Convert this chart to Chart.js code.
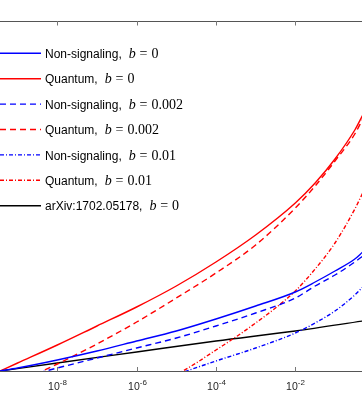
<!DOCTYPE html>
<html><head><meta charset="utf-8">
<script src="https://cdn.jsdelivr.net/npm/chart.js@4"></script>
<style>html,body{margin:0;padding:0;background:#fff;overflow:hidden}
#wrap{position:relative;width:362px;height:393px}</style>
</head><body><div id="wrap"><canvas id="c" width="362" height="393"></canvas></div>
<script>
// x values are given as base-10 exponents; y values in arbitrary units (0 = bottom of axes)
const xRangeExp = [-9.444, -0.319];
const tickExponents = [-10, -8, -6, -4, -2, 0];

const nsB0Exp = [-9.444, -9, -8, -7, -6, -5, -4, -3, -2, -1.5, -1, -0.5, -0.3];
const nsB0    = [0, 3, 11, 20, 30, 40, 52, 65, 79, 89, 100, 112, 119];

const qB0Exp  = [-9.444, -9, -8, -7, -6, -5, -4, -3, -2, -1.5, -1, -0.5, -0.3];
const qB0     = [0, 8, 26, 45, 64, 85, 109, 136, 168, 188, 212, 241, 256];

const nsB002Exp = [-9.444, -9, -8, -7, -6, -5, -4, -3, -2, -1.5, -1, -0.5, -0.3];
const nsB002    = [-11, -7, 3, 13, 23, 33, 45, 58, 73, 85, 96, 109, 115];

const qB002Exp = [-9.444, -9, -8, -7, -6, -5, -4, -3, -2, -1.5, -1, -0.5, -0.3];
const qB002    = [-21, -12, 7, 27, 49, 73, 98, 126, 163, 185, 210, 237, 252];

const nsB001Exp = [-5, -4, -3, -2, -1.5, -1, -0.5, -0.3];
const nsB001    = [-3.5, 10, 23, 38, 48, 60, 76, 84];

const qB001Exp = [-5, -4.5, -4, -3.5, -3, -2.5, -2, -1.5, -1, -0.5, -0.3];
const qB001    = [-4, 8, 21, 34, 48, 63, 80, 102, 128, 162, 178];

const arxivExp = [-9.444, -8, -6, -4, -2, -0.3];
const arxiv    = [0, 8, 19, 30, 40, 50];

const labels = [
  'Non-signaling, b = 0',
  'Quantum, b = 0',
  'Non-signaling, b = 0.002',
  'Quantum, b = 0.002',
  'Non-signaling, b = 0.01',
  'Quantum, b = 0.01',
  'arXiv:1702.05178, b = 0'
];

function pts(ex, ys){ return ex.map((e,i)=>({x: Math.pow(10,e), y: ys[i]})); }

const DASH = [6,4], DASHDOT = [4,2,1,2];
const series = [
  [nsB0Exp, nsB0, '#0000ff', []],
  [qB0Exp, qB0, '#ff0000', []],
  [nsB002Exp, nsB002, '#0000ff', DASH],
  [qB002Exp, qB002, '#ff0000', DASH],
  [nsB001Exp, nsB001, '#0000ff', DASHDOT],
  [qB001Exp, qB001, '#ff0000', DASHDOT],
  [arxivExp, arxiv, '#000000', []]
];

const datasets = series.map((s,i)=>({
  label: labels[i],
  data: pts(s[0], s[1]),
  borderColor: s[2],
  borderDash: s[3],
  borderWidth: 1.4,
  pointRadius: 0,
  fill: false,
  cubicInterpolationMode: 'monotone'
}));

const SANS = '"Liberation Sans", Arial, Helvetica, sans-serif';
const SERIF = '"Liberation Serif", "Times New Roman", serif';

const decor = {
  id: 'decor',
  afterDatasetsDraw(chart){
    const ctx = chart.ctx, a = chart.chartArea, xs = chart.scales.x;
    ctx.save();
    // axes lines
    ctx.strokeStyle = '#555';
    ctx.lineWidth = 1;
    ctx.setLineDash([]);
    ctx.beginPath();
    ctx.moveTo(0, Math.round(a.top)+0.5); ctx.lineTo(chart.width, Math.round(a.top)+0.5);
    ctx.moveTo(0, Math.round(a.bottom)+0.5); ctx.lineTo(chart.width, Math.round(a.bottom)+0.5);
    ctx.stroke();
    // inward ticks and labels
    ctx.strokeStyle = '#777';
    tickExponents.forEach(e=>{
      const x = Math.round(xs.getPixelForValue(Math.pow(10,e)))+0.5;
      if (x < -30 || x > chart.width+30) return;
      ctx.beginPath();
      ctx.moveTo(x, Math.round(a.top)); ctx.lineTo(x, Math.round(a.top)+4.5);
      ctx.moveTo(x, Math.round(a.bottom)+0.5); ctx.lineTo(x, Math.round(a.bottom)-4);
      ctx.stroke();
      ctx.fillStyle = '#262626';
      const base = '10', sup = String(e);
      ctx.font = '10.5px ' + SANS;
      const w1 = ctx.measureText(base).width;
      ctx.font = '8px ' + SANS;
      const w2 = ctx.measureText(sup).width;
      const x0 = x - (w1 + w2)/2;
      ctx.textBaseline = 'alphabetic';
      ctx.textAlign = 'left';
      ctx.font = '10.5px ' + SANS;
      ctx.fillText(base, x0, a.bottom + 19);
      ctx.font = '8px ' + SANS;
      ctx.fillText(sup, x0 + w1, a.bottom + 14);
    });
    // legend
    const y0 = 53.3, dy = 25.4;
    chart.data.datasets.forEach((ds,i)=>{
      const y = y0 + i*dy;
      ctx.strokeStyle = ds.borderColor;
      ctx.lineWidth = 1.4;
      ctx.setLineDash(ds.borderDash);
      ctx.beginPath(); ctx.moveTo(0, y); ctx.lineTo(41, y); ctx.stroke();
      ctx.setLineDash([]);
      const parts = ds.label.split(', b = ');
      ctx.fillStyle = '#000';
      ctx.textBaseline = 'alphabetic';
      ctx.textAlign = 'left';
      let x = 45;
      const bl = y + 4.7;
      ctx.font = '12px ' + SANS;
      ctx.fillText(parts[0] + ',', x, bl);
      x += ctx.measureText(parts[0] + ',').width + 7;
      ctx.font = 'italic 14px ' + SERIF;
      ctx.fillText('b', x, bl);
      x += ctx.measureText('b').width + 3.9;
      ctx.font = '14px ' + SERIF;
      ctx.fillText('=', x, bl);
      x += ctx.measureText('=').width + 3.9;
      ctx.fillText(parts[1], x, bl);
    });
    ctx.restore();
  }
};

new Chart(document.getElementById('c'), {
  type: 'line',
  data: { datasets },
  options: {
    responsive: false,
    animation: false,
    events: [],
    layout: { padding: { top: 21, bottom: 22, left: 0, right: 0 } },
    plugins: { legend: { display: false }, tooltip: { enabled: false } },
    scales: {
      x: { type: 'logarithmic', display: false,
           min: Math.pow(10, xRangeExp[0]), max: Math.pow(10, xRangeExp[1]) },
      y: { type: 'linear', display: false, min: 0, max: 350 }
    }
  },
  plugins: [decor]
});
</script></body></html>
